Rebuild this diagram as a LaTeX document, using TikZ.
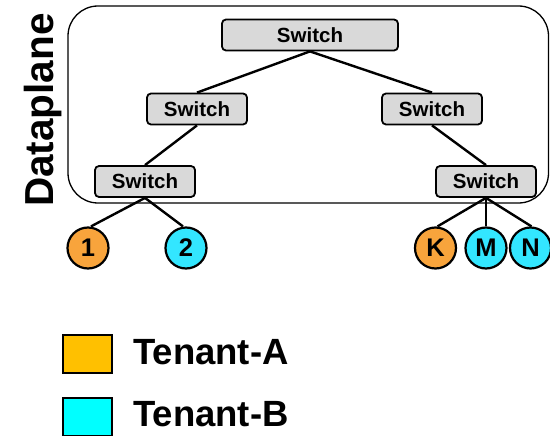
\documentclass[tikz,border=0pt]{standalone}
\usepackage{fontspec}
\setmainfont{Liberation Sans}
\begin{document}
\begin{tikzpicture}[x=1pt,y=-1pt,
  switchbox/.style={draw=black, line width=1.8pt, fill=black!15, rounded corners=4pt,
    minimum height=31pt, inner sep=0pt, font=\bfseries\fontsize{20.5}{22}\selectfont},
  hostA/.style={circle, draw=black, line width=2.2pt, fill=hostorange, minimum size=41pt,
    inner sep=0pt, font=\bfseries\fontsize{25.5}{27}\selectfont},
  hostB/.style={hostA, fill=hostcyan},
  link/.style={line width=2.4pt},
  legendbox/.style={draw=black, line width=1.5pt, minimum width=49pt, minimum height=38pt, inner sep=0pt},
  legendtext/.style={anchor=base west, inner sep=0pt, font=\bfseries\fontsize{36.5}{38}\selectfont}
]
\definecolor{hostorange}{RGB}{248,164,60}
\definecolor{hostcyan}{RGB}{51,230,255}
\definecolor{tenantA}{RGB}{255,192,0}
\definecolor{tenantB}{RGB}{0,255,255}
\useasboundingbox (0,0) rectangle (550,436);

% dataplane frame and its label
\draw[line width=1.3pt, rounded corners=30pt] (68,6) rectangle (548.5,203);
\node[rotate=90, anchor=base, inner sep=0pt, font=\bfseries\fontsize{40.5}{44}\selectfont] (dp) at (53.5,110) {Dataplane};

% switch tree
\node[switchbox, minimum width=176pt] (s0) at (310,35) {Switch};
\node[switchbox, minimum width=100pt] (s1) at (197,109) {Switch};
\node[switchbox, minimum width=100pt] (s2) at (432,109) {Switch};
\node[switchbox, minimum width=100pt] (s3) at (145,181.5) {Switch};
\node[switchbox, minimum width=100pt] (s4) at (486,181.5) {Switch};

% links between switches
\draw[link] (s0.south) -- (s1.north);
\draw[link] (s0.south) -- (s2.north);
\draw[link] (s1.south) -- (s3.north);
\draw[link] (s2.south) -- (s4.north);

% hosts
\node[hostA] (h1) at (88,248) {1};
\node[hostB] (h2) at (186,248) {2};
\node[hostA] (hK) at (435.5,248) {K};
\node[hostB] (hM) at (486,248) {M};
\node[hostB] (hN) at (530.5,248) {N};

% links from the edge switches down to the hosts
\draw[link] (s3.south) -- ([xshift=3pt]h1.north);
\draw[link] (s3.south) -- ([xshift=-3pt]h2.north);
\draw[link] (s4.south) -- ([xshift=2pt]hK.north);
\draw[link] (s4.south) -- (hM.north);
\draw[link] (s4.south) -- ([xshift=1pt]hN.north);

% legend
\node[legendbox, fill=tenantA] (la) at (87.5,354) {};
\node[legendtext] (ta) at (133,364) {Tenant-A};
\node[legendbox, fill=tenantB] (lb) at (87.5,417) {};
\node[legendtext] (tb) at (133,426) {Tenant-B};
\end{tikzpicture}
\end{document}
